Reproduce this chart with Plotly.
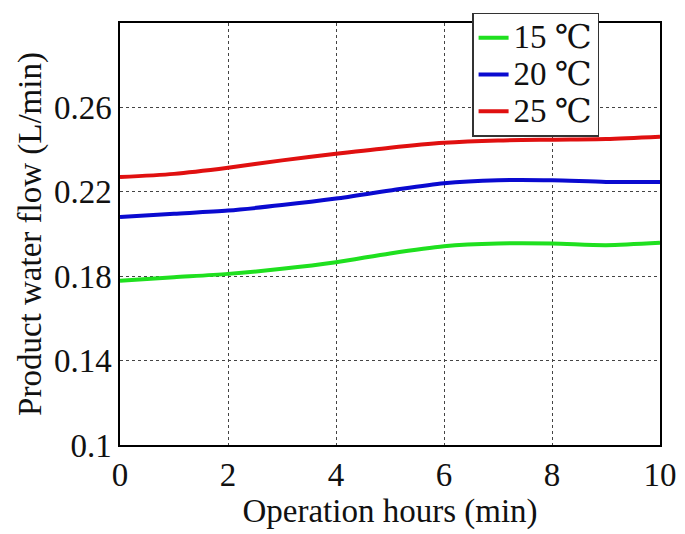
import plotly.graph_objects as go

hours = [0, 1, 2, 3, 4, 5, 6, 7, 8, 9, 10]
flow_15 = [0.1779, 0.1795, 0.1811, 0.1835, 0.1866, 0.1908, 0.1942, 0.1955, 0.1955, 0.1947, 0.1958]
flow_20 = [0.2081, 0.2096, 0.2111, 0.2137, 0.2168, 0.2206, 0.2241, 0.2255, 0.2255, 0.2247, 0.2247]
flow_25 = [0.2270, 0.2285, 0.2314, 0.2349, 0.2380, 0.2409, 0.2432, 0.2443, 0.2447, 0.2450, 0.2461]
series_names = ["15 ℃", "20 ℃", "25 ℃"]
series_colors = ["#1fe01f", "#0a0ad0", "#e01010"]
x_ticks = [0, 2, 4, 6, 8, 10]
y_ticks = [0.10, 0.14, 0.18, 0.22, 0.26]
y_tick_text = ["0.1", "0.14", "0.18", "0.22", "0.26"]

FONT = "Liberation Serif, Times New Roman, serif"
SYM = "DejaVu Serif"


def legend_label(name):
    # larger serif text; degree-Celsius sign from a font that has the glyph
    num, sign = name.split(" ")
    return (f"<span style='font-size:33px'>{num} "
            f"<span style='font-family:{SYM};font-weight:normal'>{sign}</span></span>")


fig = go.Figure()
for name, vals, col in zip(series_names, [flow_15, flow_20, flow_25], series_colors):
    fig.add_trace(go.Scatter(
        x=hours, y=vals, mode="lines", name=legend_label(name),
        line=dict(color=col, width=4, shape="spline", smoothing=0.8),
    ))

axis_common = dict(
    showline=True, linecolor="black", linewidth=1.5, mirror=True,
    showgrid=True, gridcolor="#444444", gridwidth=1, griddash="dot",
    zeroline=False, ticks="", tickfont=dict(family=FONT, size=33, color="#111"),
)

fig.update_xaxes(
    range=[0, 10], tickvals=x_ticks,
    title=dict(text="Operation hours (min)", font=dict(family=FONT, size=33, color="#111"), standoff=7),
    **axis_common,
)
fig.update_yaxes(
    range=[0.1, 0.3], tickvals=y_ticks, ticktext=y_tick_text,
    title=dict(text="Product water flow (L/min)", font=dict(family=FONT, size=33, color="#111"), standoff=2),
    **axis_common,
)

fig.update_layout(
    width=677, height=526,
    margin=dict(l=112, r=25, t=15, b=89, autoexpand=False),
    plot_bgcolor="white", paper_bgcolor="white",
    font=dict(family=FONT, color="#111"),
    legend=dict(
        x=0.652, y=1.024, xanchor="left", yanchor="top",
        bgcolor="white", bordercolor="#333", borderwidth=1.5,
        font=dict(family=FONT, size=26, color="#111"),
        tracegroupgap=0,
    ),
    showlegend=True,
)

fig.write_html("out.html")
